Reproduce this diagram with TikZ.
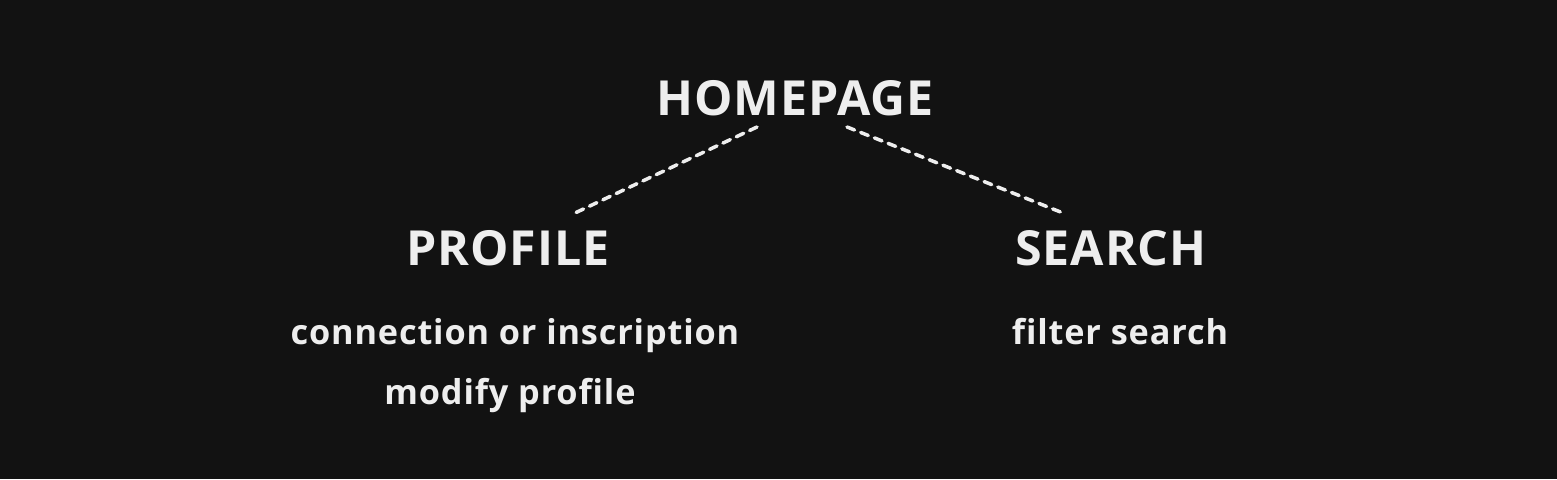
\documentclass[tikz,border=0pt]{standalone}
\usepackage{fontspec}
\setmainfont[Ligatures=NoCommon]{Open Sans}
\usepackage{tikz}
\usetikzlibrary{positioning}
\definecolor{bgdark}{HTML}{121212}
\definecolor{inkwhite}{HTML}{EEEEEE}

\begin{document}
\begin{tikzpicture}[
	title/.style={text=inkwhite,font=\fontsize{27.5}{30}\selectfont\bfseries\addfontfeature{LetterSpace=2}},
	item/.style={text=inkwhite,font=\fontsize{19.5}{22}\selectfont\bfseries\addfontfeature{LetterSpace=2.5}},
	link/.style={draw=inkwhite,line width=2pt,line cap=round,dash pattern=on 4.6pt off 3.8pt},
	]
	\fill[bgdark] (0,0) rectangle (31.14,9.58);
	\useasboundingbox (0,0) rectangle (31.14,9.58);
	% pages
	\node[title] (home) at (15.9,7.62) {HOMEPAGE};
	\node[title] (profile) at (10.16,4.62) {PROFILE};
	\node[title] (search) at (22.22,4.62) {SEARCH};
	% actions
	\node[item] (connect) at (10.3,2.87) {connection or inscription};
	\node[item] (modify) at (10.2,1.67) {modify profile};
	\node[item] (filter) at (22.4,2.94) {filter search};
	% links
	\coordinate (homeL) at (15.14,7.04);
	\coordinate (homeR) at (16.94,7.04);
	\coordinate (profileT) at (11.5,5.32);
	\coordinate (searchT) at (21.26,5.32);
	\draw[link] (homeL) -- (profileT);
	\draw[link] (homeR) -- (searchT);
\end{tikzpicture}
\end{document}
